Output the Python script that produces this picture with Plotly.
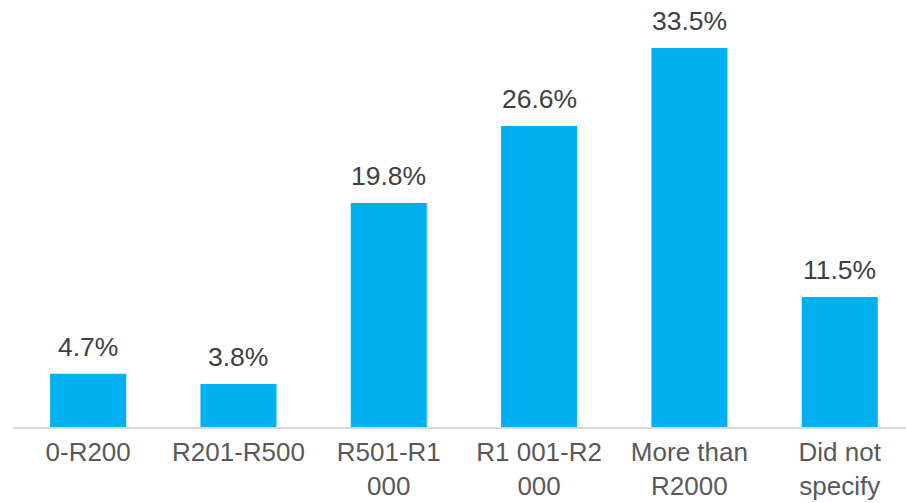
import plotly.graph_objects as go

categories = ["0-R200", "R201-R500", "R501-R1<br>000", "R1 001-R2<br>000", "More than<br>R2000", "Did not<br>specify"]
values = [4.7, 3.8, 19.8, 26.6, 33.5, 11.5]
value_labels = ["4.7%", "3.8%", "19.8%", "26.6%", "33.5%", "11.5%"]

BAR_COLOR = "#00B0F0"
FONT = "Liberation Sans, Arial, sans-serif"
FS = 26.5
TICK_FS = 26

fig = go.Figure()
fig.add_trace(go.Bar(
    x=list(range(len(categories))),
    y=values,
    width=0.506,
    marker=dict(color=BAR_COLOR, line=dict(width=0)),
    hoverinfo="skip",
))

for i, (v, t) in enumerate(zip(values, value_labels)):
    fig.add_annotation(
        x=i, y=v, text=t, showarrow=False, xanchor="center", yanchor="bottom",
        yshift=10, font=dict(family=FONT, size=FS, color="#404040"),
    )

fig.update_layout(
    width=906, height=503,
    margin=dict(l=13, r=0, t=0, b=76),
    paper_bgcolor="white", plot_bgcolor="white",
    showlegend=False,
    font=dict(family=FONT, size=FS, color="#595959"),
    xaxis=dict(
        tickmode="array",
        tickvals=list(range(len(categories))),
        ticktext=categories,
        range=[-0.5, 5.441],
        showgrid=False, zeroline=False,
        showline=True, linecolor="#D9D9D9", linewidth=1.5,
        ticks="", ticklabelstandoff=1, automargin=False,
        tickfont=dict(family=FONT, size=TICK_FS, color="#595959"),
        fixedrange=True,
    ),
    yaxis=dict(
        range=[0, 37.75],
        visible=False, showgrid=False, zeroline=False,
        automargin=False, fixedrange=True,
    ),
)

fig.write_html("out.html")
